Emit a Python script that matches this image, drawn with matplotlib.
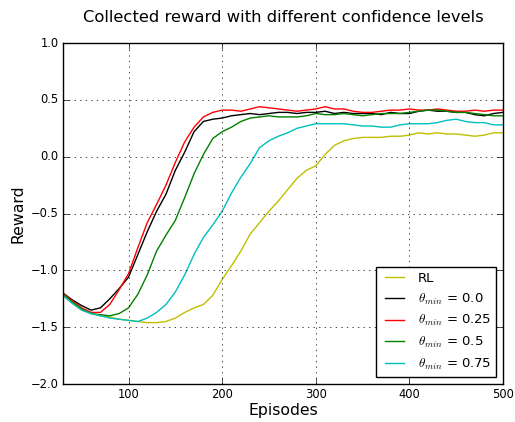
import numpy as np
import matplotlib
matplotlib.use('Agg')
import matplotlib.pyplot as plt

# episodes (moving average starts at 30)
episodes = list(range(30, 501, 10))

reward_rl = [-1.22, -1.29, -1.35, -1.38, -1.40, -1.41, -1.43, -1.44, -1.45, -1.46,
             -1.46, -1.45, -1.42, -1.37, -1.33, -1.30, -1.22, -1.08, -0.96, -0.83,
             -0.68, -0.58, -0.48, -0.39, -0.29, -0.19, -0.12, -0.08, 0.02, 0.10,
             0.14, 0.16, 0.17, 0.17, 0.17, 0.18, 0.18, 0.19, 0.21, 0.20,
             0.21, 0.20, 0.20, 0.19, 0.18, 0.19, 0.21, 0.21]

reward_00 = [-1.20, -1.26, -1.31, -1.35, -1.33, -1.25, -1.16, -1.06, -0.86, -0.66,
             -0.48, -0.33, -0.12, 0.04, 0.22, 0.31, 0.33, 0.34, 0.36, 0.37,
             0.38, 0.37, 0.38, 0.39, 0.39, 0.38, 0.39, 0.39, 0.40, 0.38,
             0.39, 0.38, 0.38, 0.38, 0.37, 0.39, 0.38, 0.38, 0.40, 0.41,
             0.40, 0.40, 0.39, 0.39, 0.37, 0.36, 0.38, 0.39]

reward_025 = [-1.20, -1.27, -1.33, -1.37, -1.37, -1.30, -1.17, -1.03, -0.80, -0.58,
              -0.42, -0.25, -0.05, 0.13, 0.26, 0.35, 0.39, 0.41, 0.41, 0.40,
              0.42, 0.44, 0.43, 0.42, 0.41, 0.40, 0.41, 0.42, 0.44, 0.42,
              0.42, 0.40, 0.39, 0.39, 0.40, 0.41, 0.41, 0.42, 0.41, 0.41,
              0.42, 0.41, 0.40, 0.40, 0.41, 0.40, 0.41, 0.41]

reward_05 = [-1.21, -1.28, -1.34, -1.38, -1.39, -1.40, -1.38, -1.33, -1.21, -1.04,
             -0.83, -0.69, -0.56, -0.36, -0.15, 0.02, 0.16, 0.22, 0.26, 0.31,
             0.34, 0.35, 0.36, 0.35, 0.35, 0.35, 0.36, 0.38, 0.37, 0.37,
             0.38, 0.37, 0.36, 0.37, 0.38, 0.38, 0.38, 0.39, 0.40, 0.41,
             0.41, 0.40, 0.39, 0.39, 0.38, 0.37, 0.36, 0.36]

reward_075 = [-1.22, -1.29, -1.35, -1.38, -1.40, -1.42, -1.43, -1.44, -1.45, -1.42,
              -1.37, -1.30, -1.19, -1.04, -0.86, -0.71, -0.60, -0.48, -0.32, -0.18,
              -0.06, 0.08, 0.14, 0.18, 0.21, 0.25, 0.27, 0.29, 0.29, 0.29,
              0.29, 0.28, 0.27, 0.27, 0.26, 0.26, 0.28, 0.29, 0.29, 0.29,
              0.30, 0.32, 0.33, 0.31, 0.30, 0.30, 0.28, 0.28]

series = [
    (reward_rl, 'y', 'RL'),
    (reward_00, 'k', r'$\theta_{min}$ = 0.0'),
    (reward_025, 'r', r'$\theta_{min}$ = 0.25'),
    (reward_05, 'g', r'$\theta_{min}$ = 0.5'),
    (reward_075, 'c', r'$\theta_{min}$ = 0.75'),
]

plt.style.use('classic')
plt.rcParams['figure.facecolor'] = 'white'
plt.rcParams['savefig.facecolor'] = 'white'
plt.rcParams['axes.unicode_minus'] = True
plt.rcParams['font.family'] = 'DejaVu Sans'

fig = plt.figure(figsize=(5.15, 4.22), dpi=100)
ax = fig.add_axes([0.1223, 0.09, 0.8544, 0.808])

for values, color, label in series:
    ax.plot(episodes, values, color=color, linewidth=1.0, label=label)

ax.set_xlim(30, 500)
ax.set_ylim(-2.0, 1.0)
ax.set_xticks([100, 200, 300, 400, 500])
ax.set_yticks(np.arange(-2.0, 1.01, 0.5))
ax.tick_params(labelsize=8.3, pad=3)
ax.grid(True)

ax.set_title('Collected reward with different confidence levels', fontsize=11.8, pad=15)
ax.set_xlabel('Episodes', fontsize=11.3, labelpad=1)
ax.set_ylabel('Reward', fontsize=11.3, labelpad=4)
ax.legend(loc='lower right', fontsize=9.5, borderaxespad=0.5)

fig.savefig('out.png', dpi=100)
